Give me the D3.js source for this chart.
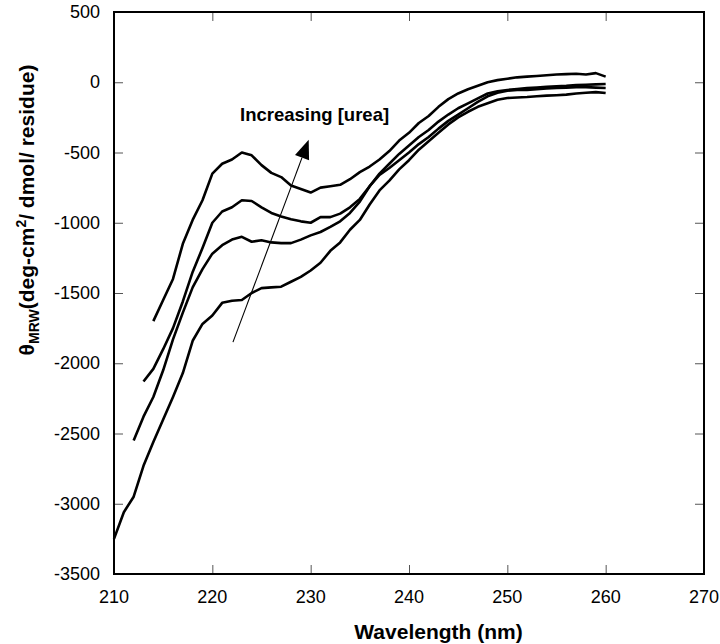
<!DOCTYPE html>
<html>
<head>
<meta charset="utf-8">
<script src="https://cdn.jsdelivr.net/npm/d3@7"></script>
<style>
html,body{margin:0;padding:0;background:#fff;}
svg{display:block;}
text{font-family:"Liberation Sans",Arial,Helvetica,sans-serif;fill:#000;}
</style>
</head>
<body>
<svg id="chart" width="720" height="644"></svg>
<script>
// ---- data (wavelength nm, theta_MRW) ----
const wlA = d3.range(214, 261);
const valA = [-1700,-1550,-1400,-1150,-980,-840,-650,-580,-550,-500,-520,-590,-645,-675,-735,-760,-785,-750,-740,-730,-690,-640,-600,-550,-490,-415,-360,-290,-240,-175,-120,-80,-50,-25,0,15,25,35,40,45,50,55,58,60,55,65,40];
const wlB = d3.range(213, 261);
const valB = [-2130,-2040,-1900,-1750,-1560,-1350,-1180,-1000,-920,-890,-840,-845,-890,-930,-955,-975,-990,-1000,-960,-960,-935,-890,-830,-740,-650,-580,-510,-450,-390,-340,-280,-230,-185,-150,-115,-80,-65,-55,-48,-42,-38,-33,-28,-25,-20,-18,-15,-12];
const wlC = d3.range(212, 261);
const valC = [-2550,-2380,-2240,-2050,-1830,-1640,-1460,-1330,-1220,-1160,-1120,-1100,-1135,-1125,-1140,-1145,-1145,-1120,-1090,-1066,-1030,-990,-930,-850,-740,-660,-610,-555,-500,-440,-390,-330,-275,-230,-185,-140,-100,-75,-60,-55,-55,-50,-45,-40,-38,-35,-35,-38,-41];
const wlD = d3.range(210, 261);
const valD = [-3250,-3060,-2950,-2730,-2560,-2400,-2240,-2070,-1840,-1720,-1660,-1570,-1555,-1550,-1500,-1465,-1460,-1455,-1420,-1385,-1340,-1285,-1200,-1140,-1050,-980,-870,-770,-700,-620,-555,-480,-420,-360,-300,-250,-210,-175,-150,-125,-112,-108,-105,-100,-95,-92,-88,-80,-75,-70,-77];

const xTicks = [210,220,230,240,250,260,270];
const yTicks = [500,0,-500,-1000,-1500,-2000,-2500,-3000,-3500];
const arrowFrom = [222.1, -1850];
const arrowTo = [229.8, -410];
const annotation = "Increasing [urea]";

// ---- layout ----
const W = 720, H = 644;
const m = {left:114, top:12, right:16, bottom:70};
const iw = W - m.left - m.right, ih = H - m.top - m.bottom;

const svg = d3.select("#chart");
const x = d3.scaleLinear().domain([210,270]).range([m.left, m.left+iw]);
const y = d3.scaleLinear().domain([-3500,500]).range([m.top+ih, m.top]);

// ticks (inside, on all four sides)
const tickLen = 9;
const gx = svg.append("g");
gx.append("g").attr("transform",`translate(0,${m.top+ih})`)
  .call(d3.axisBottom(x).tickValues(xTicks).tickSizeInner(-tickLen).tickSizeOuter(0).tickFormat(""))
  .call(g=>g.select(".domain").remove())
  .call(g=>g.selectAll("line").attr("stroke","#555").attr("stroke-width",1));
gx.append("g").attr("transform",`translate(0,${m.top})`)
  .call(d3.axisTop(x).tickValues(xTicks).tickSizeInner(-tickLen).tickSizeOuter(0).tickFormat(""))
  .call(g=>g.select(".domain").remove())
  .call(g=>g.selectAll("line").attr("stroke","#555").attr("stroke-width",1));
gx.append("g").attr("transform",`translate(${m.left},0)`)
  .call(d3.axisLeft(y).tickValues(yTicks).tickSizeInner(-tickLen).tickSizeOuter(0).tickFormat(""))
  .call(g=>g.select(".domain").remove())
  .call(g=>g.selectAll("line").attr("stroke","#555").attr("stroke-width",1));
gx.append("g").attr("transform",`translate(${m.left+iw},0)`)
  .call(d3.axisRight(y).tickValues(yTicks).tickSizeInner(-tickLen).tickSizeOuter(0).tickFormat(""))
  .call(g=>g.select(".domain").remove())
  .call(g=>g.selectAll("line").attr("stroke","#555").attr("stroke-width",1));

// tick labels
svg.append("g").selectAll("text").data(xTicks).join("text")
  .attr("x",d=>x(d)).attr("y",m.top+ih+29)
  .attr("text-anchor","middle").attr("font-size",18).text(d=>d);
svg.append("g").selectAll("text").data(yTicks).join("text")
  .attr("x",m.left-14).attr("y",d=>y(d)+6)
  .attr("text-anchor","end").attr("font-size",18).text(d=>d);

// frame
svg.append("rect").attr("x",m.left).attr("y",m.top).attr("width",iw).attr("height",ih)
  .attr("fill","none").attr("stroke","#000").attr("stroke-width",2);

// curves
const line = d3.line().x(d=>x(d[0])).y(d=>y(d[1]));
const series = [[wlA,valA],[wlB,valB],[wlC,valC],[wlD,valD]];
svg.append("g").selectAll("path").data(series).join("path")
  .attr("d",s=>line(s[0].map((w,i)=>[w,s[1][i]])))
  .attr("fill","none").attr("stroke","#000").attr("stroke-width",2.6)
  .attr("stroke-linejoin","round").attr("stroke-linecap","butt");

// arrow
const x0 = x(arrowFrom[0]), y0 = y(arrowFrom[1]), x1 = x(arrowTo[0]), y1 = y(arrowTo[1]);
const ang = Math.atan2(y1-y0, x1-x0);
const hl = 19, hw = 7.5;
const bx = x1 - hl*Math.cos(ang), by = y1 - hl*Math.sin(ang);
svg.append("line").attr("x1",x0).attr("y1",y0).attr("x2",bx).attr("y2",by)
  .attr("stroke","#000").attr("stroke-width",1.1);
svg.append("path")
  .attr("d",`M${x1},${y1}L${bx - hw*Math.sin(ang)},${by + hw*Math.cos(ang)}L${bx + hw*Math.sin(ang)},${by - hw*Math.cos(ang)}Z`)
  .attr("fill","#000");

// annotation
svg.append("text").attr("x",240).attr("y",121).attr("font-size",18.5).attr("font-weight","bold")
  .text(annotation);

// axis titles
svg.append("text").attr("x",x(243)).attr("y",639).attr("text-anchor","middle")
  .attr("font-size",21).attr("font-weight","bold").text("Wavelength (nm)");

const yt = svg.append("text").attr("transform",`translate(34,${210}) rotate(-90)`)
  .attr("text-anchor","middle").attr("font-size",21).attr("font-weight","bold");
yt.append("tspan").text("θ");
yt.append("tspan").attr("font-size",14).attr("dy",5).text("MRW");
yt.append("tspan").attr("dy",-5).text("(deg-cm");
yt.append("tspan").attr("font-size",14).attr("dy",-8).text("2");
yt.append("tspan").attr("dy",8).text("/ dmol/ residue)");
</script>
</body>
</html>
